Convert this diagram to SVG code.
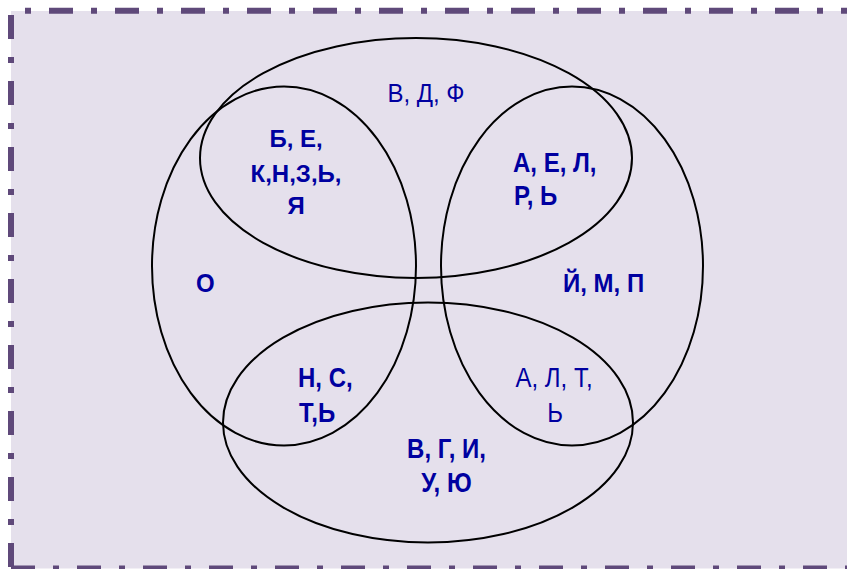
<svg xmlns="http://www.w3.org/2000/svg" width="847" height="569" viewBox="0 0 847 569">
<style>
.set{fill:none;stroke:#000;stroke-width:2}
.b{stroke:#5F497A;stroke-width:6;stroke-dasharray:24 18 6 18;fill:none}
.t{font-family:"Liberation Sans",Arial,sans-serif;font-size:24px;fill:#0000A0}
.bold{font-weight:bold}
.c{text-anchor:middle}
</style>
<g id="background">
<rect x="11" y="11" width="900" height="557.5" fill="#E5E0EC"/>
<line class="b" x1="11" y1="10.7" x2="847" y2="10.7" stroke-dashoffset="28"/>
<line class="b" x1="11" y1="11" x2="11" y2="569" stroke-dashoffset="62"/>
<line class="b" x1="11" y1="568.5" x2="847" y2="568.5" stroke-dashoffset="0"/>
</g>
<g id="sets">
<g id="set-top"><ellipse class="set" cx="416" cy="158" rx="216" ry="120"/></g>
<g id="set-left"><ellipse class="set" cx="284" cy="266" rx="132" ry="179.5"/></g>
<g id="set-right"><ellipse class="set" cx="572" cy="266" rx="131" ry="179.5"/></g>
<g id="set-bottom"><ellipse class="set" cx="428" cy="422.5" rx="205" ry="120"/></g>
</g>
<g id="connectors"/>
<g id="labels">
<g id="lbl-vdf" transform="translate(426,101.7) scale(1,1.08)"><text class="t c" x="0" y="0">В, Д, Ф</text></g>
<g id="lbl-be" transform="translate(296,147.3)"><text class="t bold c" x="0" y="0">Б, Е,</text><text class="t bold c" x="0" y="34.4">К,Н,З,Ь,</text><text class="t bold c" x="0" y="66.7">Я</text></g>
<g id="lbl-ael" transform="translate(513,171.7) scale(1,1.15)"><text class="t bold" x="0" y="0">А, Е, Л,</text><text class="t bold" x="1" y="29">Р, Ь</text></g>
<g id="lbl-o" transform="translate(196,292.3) scale(1,1.05)"><text class="t bold" x="0" y="0">О</text></g>
<g id="lbl-jmp" transform="translate(563,292.3) scale(1,1.05)"><text class="t bold" x="0" y="0">Й, М, П</text></g>
<g id="lbl-ns" transform="translate(298,387.3) scale(1,1.15)"><text class="t bold" x="0" y="0">Н, С,</text><text class="t bold" x="1" y="29.9">Т,Ь</text></g>
<g id="lbl-alt" transform="translate(554,387.3) scale(1,1.15)"><text class="t c" x="0" y="0">А, Л, Т,</text><text class="t c" x="1" y="29.9">Ь</text></g>
<g id="lbl-vgi" transform="translate(446.5,458.3) scale(1,1.12)"><text class="t bold c" x="0" y="0">В, Г, И,</text><text class="t bold c" x="0" y="29.8">У, Ю</text></g>
</g>
</svg>
